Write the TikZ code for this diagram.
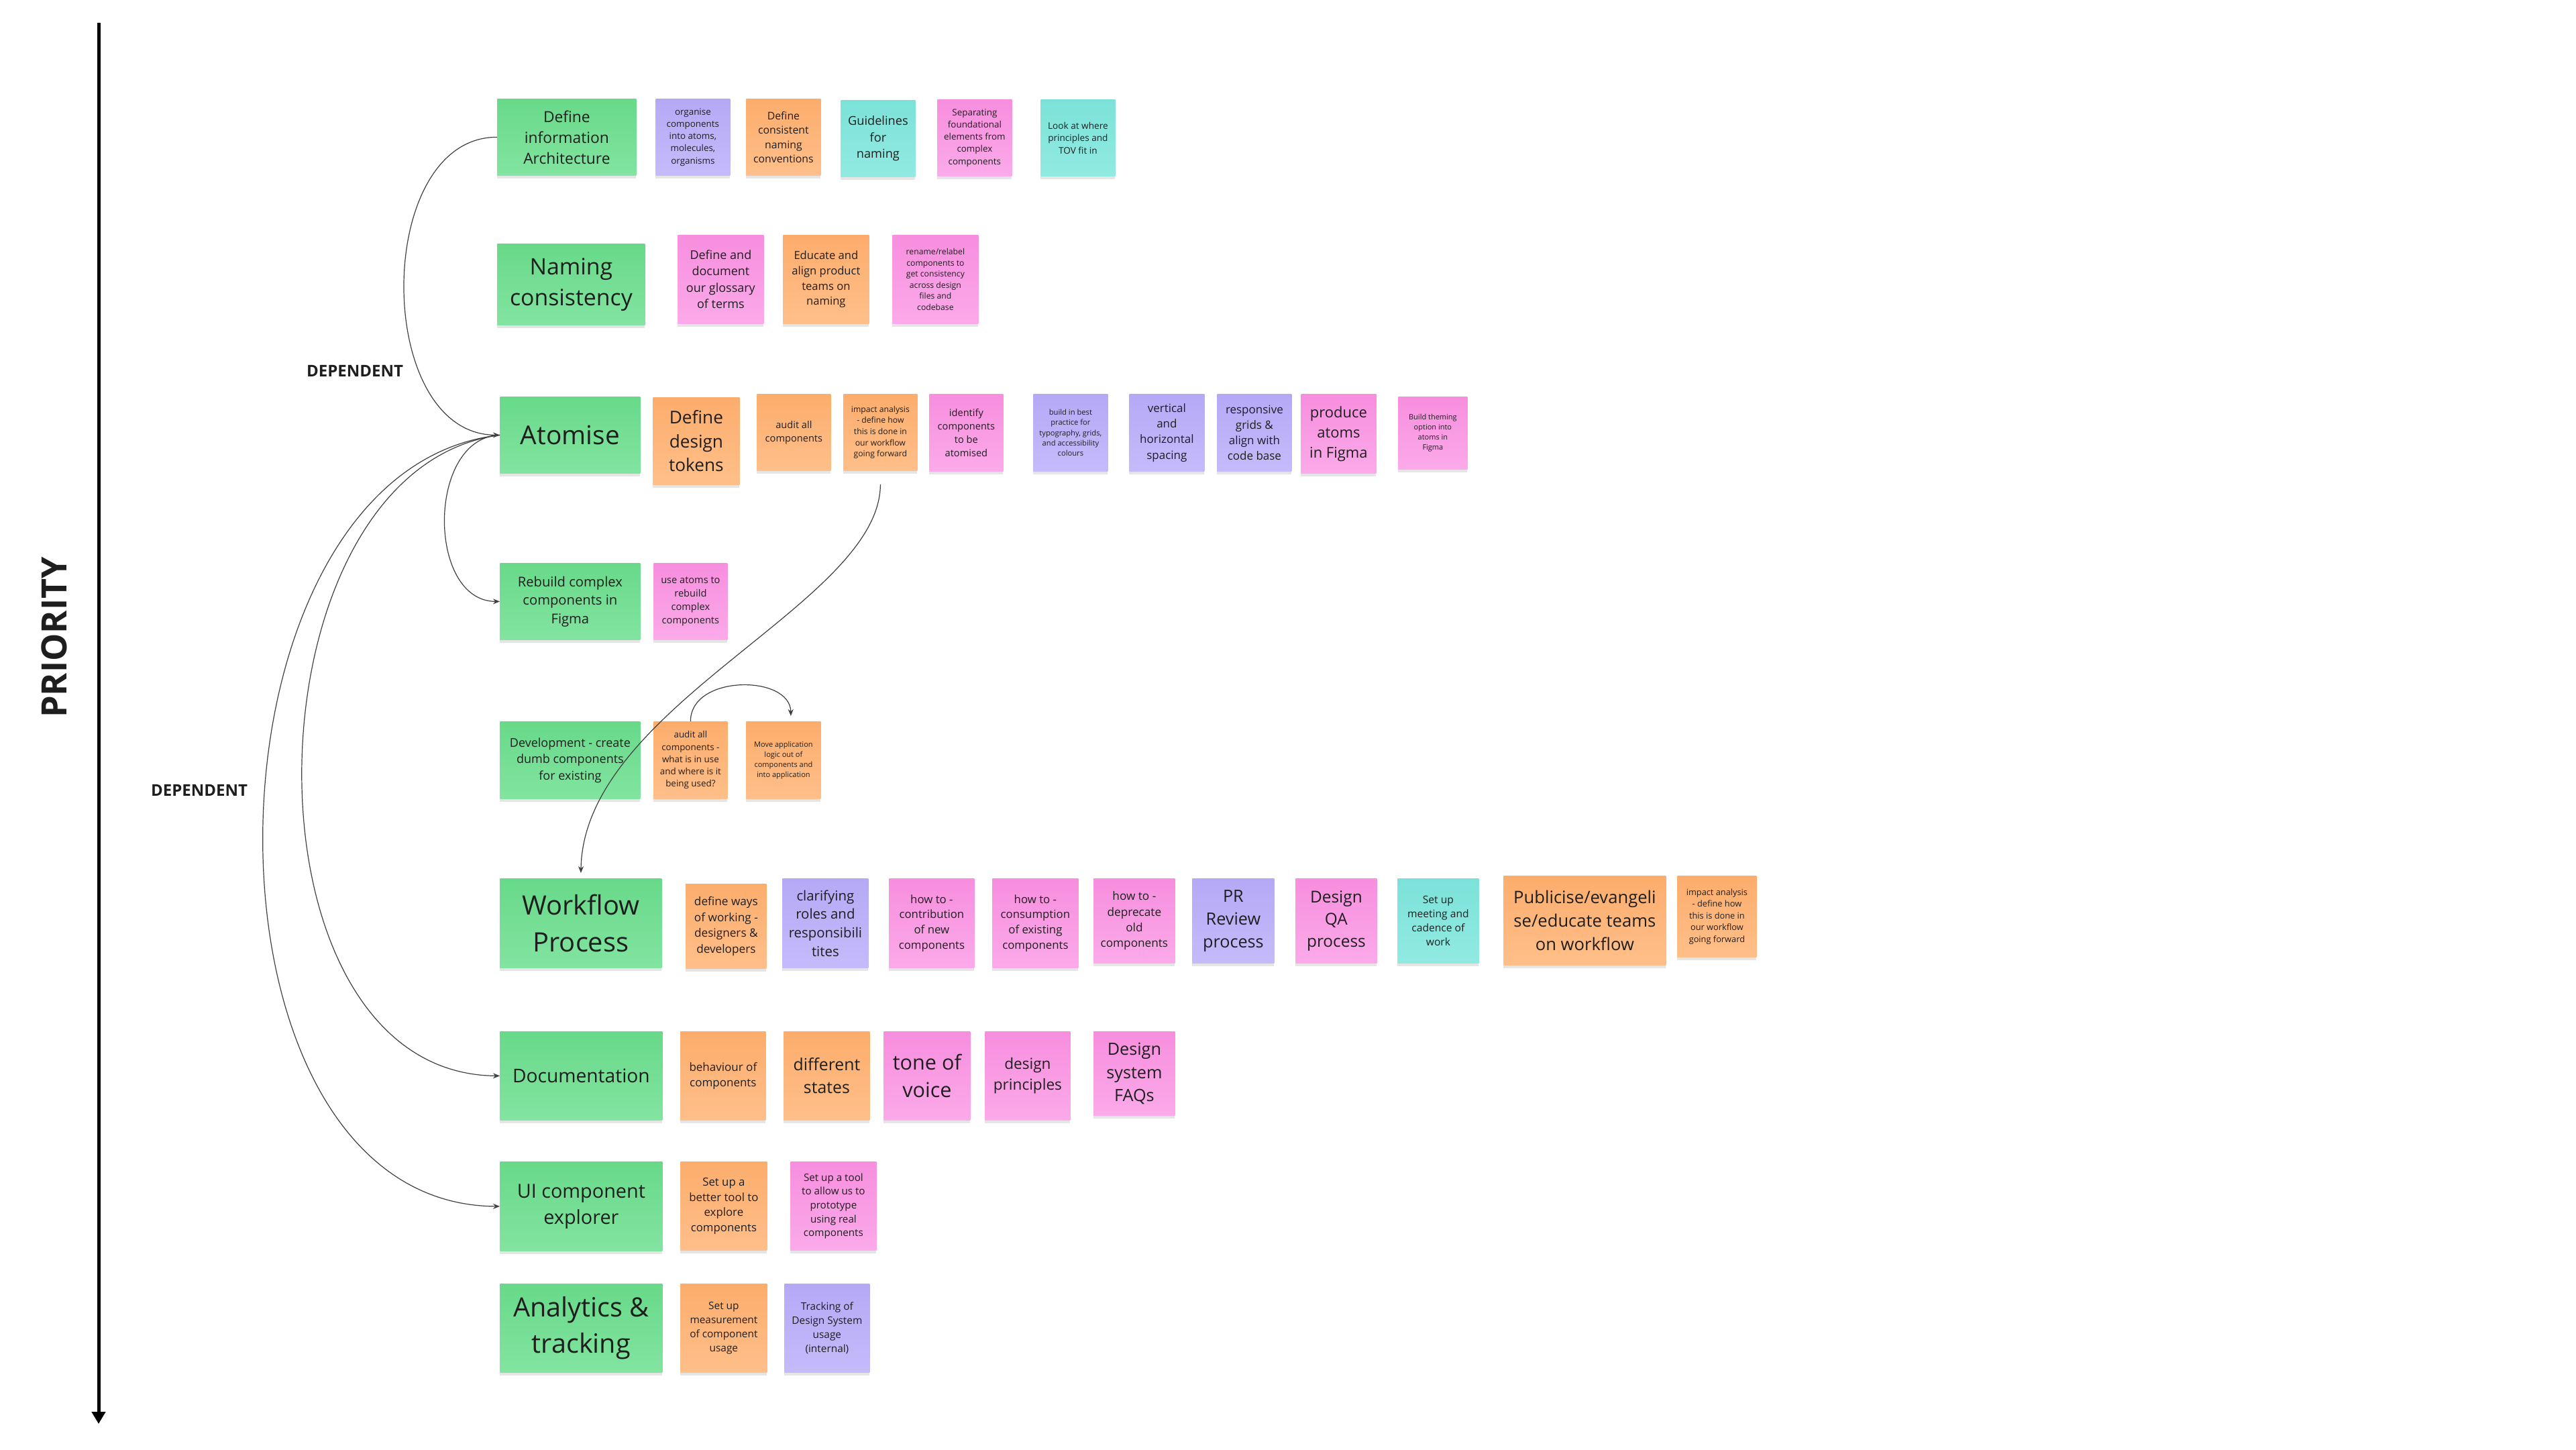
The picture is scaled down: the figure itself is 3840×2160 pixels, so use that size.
\documentclass[tikz,border=0pt]{standalone}
\usepackage{fontspec}
\usepackage{xfp}
\setmainfont{Open Sans}
\usetikzlibrary{arrows.meta,shadows}
\definecolor{gT}{RGB}{104,217,137}
\definecolor{gB}{RGB}{130,228,160}
\definecolor{pT}{RGB}{181,169,246}
\definecolor{pB}{RGB}{197,187,250}
\definecolor{oT}{RGB}{252,173,108}
\definecolor{oB}{RGB}{255,191,138}
\definecolor{tT}{RGB}{124,226,217}
\definecolor{tB}{RGB}{145,234,226}
\definecolor{kT}{RGB}{247,142,222}
\definecolor{kB}{RGB}{251,170,234}
\definecolor{ink}{RGB}{30,30,30}
\newcommand\fs[1]{\fontsize{#1pt}{\fpeval{1.36*#1}pt}\selectfont}
\tikzset{
  card/.style={inner sep=0pt, align=center, text=ink, anchor=north west,
    drop shadow={shadow xshift=0pt, shadow yshift=-2.5pt, opacity=0.10, fill=black}},
  wh/.style 2 args={minimum width=#1*0.5pt, minimum height=#2*0.5pt},
  gbox/.style={card, top color=gT, bottom color=gB},
  pbox/.style={card, top color=pT, bottom color=pB},
  obox/.style={card, top color=oT, bottom color=oB},
  tbox/.style={card, top color=tT, bottom color=tB},
  kbox/.style={card, top color=kT, bottom color=kB},
  link/.style={draw=ink!85, line width=0.6pt, -{Stealth[length=5pt,width=4pt]}},
  deplabel/.style={font=\bfseries\fs{12}, text=ink, inner sep=0pt},
}
\begin{document}
\begin{tikzpicture}[x=0.5pt, y=-0.5pt]
\fill[white] (0,0) rectangle (3840,2160);
\useasboundingbox (0,0) rectangle (3840,2160);

% priority axis
\node[rotate=90, font=\bfseries\fs{26}, text=ink, inner sep=0pt] (prio) at (81,950) {PRIORITY};
\coordinate (ptop) at (147,34);
\coordinate (pbot) at (147,2122);
\draw[line width=2.5pt, -{Triangle[length=9pt,width=10pt]}] (ptop) -- (pbot);

\node[deplabel] (dep1) at (529,553) {DEPENDENT};
\node[deplabel] (dep2) at (297,1178) {DEPENDENT};

% Row 1
\node[gbox,wh={207}{114},font=\fs{11.4}] (dia) at (741,147) {Define\\information\\Architecture};
\node[pbox,wh={111}{114},font=\fs{6.7}] (r1a) at (977,147) {organise\\components\\into atoms,\\molecules,\\organisms};
\node[obox,wh={111}{114},font=\fs{7.9}] (r1b) at (1112,147) {Define\\consistent\\naming\\conventions};
\node[tbox,wh={111}{114},font=\fs{9.1}] (r1c) at (1253,149) {Guidelines\\for\\naming};
\node[kbox,wh={111}{114},font=\fs{6.7}] (r1d) at (1397,148) {Separating\\foundational\\elements from\\complex\\components};
\node[tbox,wh={111}{114},font=\fs{6.8}] (r1e) at (1551,148) {Look at where\\principles and\\TOV fit in};

% Row 2
\node[gbox,wh={220}{121},font=\fs{16.9}] (nam) at (741,363) {Naming\\consistency};
\node[kbox,wh={128}{132},font=\fs{9.0}] (r2a) at (1010,350) {Define and\\document\\our glossary\\of terms};
\node[obox,wh={128}{132},font=\fs{8.3}] (r2b) at (1167,350) {Educate and\\align product\\teams on\\naming};
\node[kbox,wh={128}{132},font=\fs{6.1}] (r2c) at (1330,350) {rename/relabel\\components to\\get consistency\\across design\\files and\\codebase};

% Row 3
\node[gbox,wh={209}{114},font=\fs{19.4}] (atm) at (745,591) {Atomise};
\node[obox,wh={129}{130},font=\fs{13.1}] (r3a) at (973,592) {Define\\design\\tokens};
\node[obox,wh={110}{114},font=\fs{7.3}] (r3b) at (1128,587) {audit all\\components};
\node[obox,wh={110}{114},font=\fs{6.1}] (imp) at (1257,587) {impact analysis\\- define how\\this is done in\\our workflow\\going forward};
\node[kbox,wh={110}{115},font=\fs{7.3}] (r3c) at (1385,587) {identify\\components\\to be\\atomised};
\node[pbox,wh={111}{115},font=\fs{5.6}] (r3d) at (1540,587) {build in best\\practice for\\typography, grids,\\and accessibility\\colours};
\node[pbox,wh={112}{115},font=\fs{8.5}] (r3e) at (1683,587) {vertical\\and\\horizontal\\spacing};
\node[pbox,wh={111}{115},font=\fs{8.5}] (r3f) at (1814,587) {responsive\\grids \&\\align with\\code base};
\node[kbox,wh={112}{118},font=\fs{11}] (r3g) at (1939,587) {produce\\atoms\\in Figma};
\node[kbox,wh={103}{108},font=\fs{5.5}] (r3h) at (2084,591) {Build theming\\option into\\atoms in\\Figma};

% Row 4
\node[gbox,wh={209}{114},font=\fs{10.1}] (reb) at (745,839) {Rebuild complex\\components in\\Figma};
\node[kbox,wh={110}{114},font=\fs{7.3}] (r4a) at (974,839) {use atoms to\\rebuild\\complex\\components};

% Row 5
\node[gbox,wh={209}{115},font=\fs{9.0}] (dev) at (745,1075) {Development - create\\dumb components\\for existing};
\node[obox,wh={110}{115},font=\fs{6.7}] (aud) at (974,1075) {audit all\\components -\\what is in use\\and where is it\\being used?};
\node[obox,wh={111}{115},font=\fs{5.5}] (mov) at (1112,1075) {Move application\\logic out of\\components and\\into application};

% Row 6
\node[gbox,wh={241}{133},font=\fs{19.9}] (wf) at (745,1309) {Workflow\\Process};
\node[obox,wh={120}{126},font=\fs{8.6}] (r6a) at (1022,1317) {define ways\\of working -\\designers \&\\developers};
\node[pbox,wh={128}{133},font=\fs{10.2}] (r6b) at (1166,1309) {clarifying\\roles and\\responsibili\\tites};
\node[kbox,wh={127}{133},font=\fs{8.4}] (r6c) at (1325,1309) {how to -\\contribution\\of new\\components};
\node[kbox,wh={128}{133},font=\fs{8.4}] (r6d) at (1479,1309) {how to -\\consumption\\of existing\\components};
\node[kbox,wh={121}{126},font=\fs{8.6}] (r6e) at (1630,1309) {how to -\\deprecate\\old\\components};
\node[pbox,wh={122}{126},font=\fs{12.6}] (r6f) at (1777,1309) {PR\\Review\\process};
\node[kbox,wh={121}{126},font=\fs{12.2}] (r6g) at (1931,1309) {Design\\QA\\process};
\node[tbox,wh={121}{126},font=\fs{7.8}] (r6h) at (2083,1309) {Set up\\meeting and\\cadence of\\work};
\node[obox,wh={242}{133},font=\fs{12.8}] (r6i) at (2241,1305) {Publicise/evangeli\\se/educate teams\\on workflow};
\node[obox,wh={118}{121},font=\fs{6.4}] (r6j) at (2500,1305) {impact analysis\\- define how\\this is done in\\our workflow\\going forward};

% Row 7
\node[gbox,wh={242}{132},font=\fs{14.1}] (doc) at (745,1537) {Documentation};
\node[obox,wh={127}{132},font=\fs{8.5}] (r7a) at (1014,1537) {behaviour of\\components};
\node[obox,wh={128}{132},font=\fs{12.4}] (r7b) at (1168,1537) {different\\states};
\node[kbox,wh={129}{132},font=\fs{15.3}] (r7c) at (1317,1537) {tone of\\voice};
\node[kbox,wh={127}{132},font=\fs{11.3}] (r7d) at (1468,1537) {design\\principles};
\node[kbox,wh={121}{125},font=\fs{12.6}] (r7e) at (1630,1537) {Design\\system\\FAQs};

% Row 8
\node[gbox,wh={242}{133},font=\fs{14.4}] (ui) at (745,1731) {UI component\\explorer};
\node[obox,wh={129}{132},font=\fs{8.4}] (r8a) at (1014,1731) {Set up a\\better tool to\\explore\\components};
\node[kbox,wh={128}{132},font=\fs{7.6}] (r8b) at (1178,1731) {Set up a tool\\to allow us to\\prototype\\using real\\components};

% Row 9
\node[gbox,wh={242}{132},font=\fs{19.8}] (ana) at (745,1913) {Analytics \&\\tracking};
\node[obox,wh={129}{132},font=\fs{7.7}] (r9a) at (1014,1913) {Set up\\measurement\\of component\\usage};
\node[pbox,wh={127}{132},font=\fs{7.7}] (r9b) at (1169,1913) {Tracking of\\Design System\\usage\\(internal)};

% connectors
\draw[link] (dia.west) .. controls (556,204) and (556,648) .. (atm.west);
\draw[link] (atm.west) .. controls (636,652) and (636,896) .. (reb.west);
\draw[link] (atm.west) .. controls (360,700) and (345,1600) .. (doc.west);
\draw[link] (atm.west) .. controls (282,700) and (268,1795) .. (ui.west);
\draw[link] ([yshift=-10pt]imp.south) .. controls (1312,900) and (870,1050) .. ([yshift=4pt]wf.north);
\draw[link] (aud.north) .. controls (1029,1005) and (1178,1005) .. ([xshift=5.5pt,yshift=4pt]mov.north);
\end{tikzpicture}
\end{document}
